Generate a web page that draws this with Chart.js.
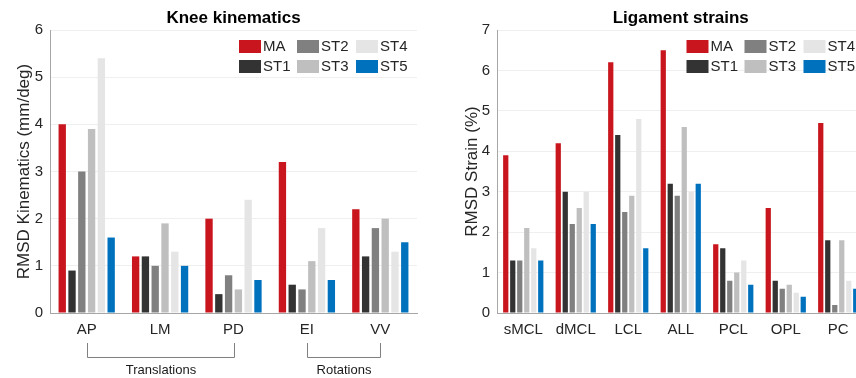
<!DOCTYPE html>
<html>
<head>
<meta charset="utf-8">
<script src="https://cdn.jsdelivr.net/npm/chart.js@4.4.1/dist/chart.umd.min.js"></script>
<style>
  html, body { margin: 0; padding: 0; width: 856px; height: 378px; overflow: hidden; background: #fff; }
  .box { position: absolute; top: 0; height: 378px; }
  #kinBox { left: 0; width: 430px; }
  #ligBox { left: 430px; width: 446px; }
</style>
</head>
<body>
<div id="kinBox" class="box"><canvas id="kinChart"></canvas></div>
<div id="ligBox" class="box"><canvas id="ligChart"></canvas></div>
<script>
// series names + colours (shared by both panels)
const seriesNames = ['MA', 'ST1', 'ST2', 'ST3', 'ST4', 'ST5'];
const seriesColors = ['#c9161e', '#333333', '#808080', '#bfbfbf', '#e5e5e5', '#0072bd'];

// knee kinematics
const kinCategories = ['AP', 'LM', 'PD', 'EI', 'VV'];
const kinMA = [4.0, 1.2, 2.0, 3.2, 2.2];
const kinST1 = [0.9, 1.2, 0.4, 0.6, 1.2];
const kinST2 = [3.0, 1.0, 0.8, 0.5, 1.8];
const kinST3 = [3.9, 1.9, 0.5, 1.1, 2.0];
const kinST4 = [5.4, 1.3, 2.4, 1.8, 1.3];
const kinST5 = [1.6, 1.0, 0.7, 0.7, 1.5];
const kinGroups = [
  { label: 'Translations', from: 'AP', to: 'PD' },
  { label: 'Rotations', from: 'EI', to: 'VV' },
];

// ligament strains
const ligCategories = ['sMCL', 'dMCL', 'LCL', 'ALL', 'PCL', 'OPL', 'PC'];
const ligMA = [3.9, 4.2, 6.2, 6.5, 1.7, 2.6, 4.7];
const ligST1 = [1.3, 3.0, 4.4, 3.2, 1.6, 0.8, 1.8];
const ligST2 = [1.3, 2.2, 2.5, 2.9, 0.8, 0.6, 0.2];
const ligST3 = [2.1, 2.6, 2.9, 4.6, 1.0, 0.7, 1.8];
const ligST4 = [1.6, 3.0, 4.8, 3.0, 1.3, 0.5, 0.8];
const ligST5 = [1.3, 2.2, 1.6, 3.2, 0.7, 0.4, 0.6];

const FONT = '"Liberation Sans", Arial, Helvetica, sans-serif';
const TEXT = '#262626';

// matlab style legend: 2 rows x 3 columns, filled column by column
const gridLegend = {
  id: 'gridLegend',
  afterDatasetsDraw(chart) {
    const { ctx, chartArea } = chart;
    const x0 = chartArea.right - 178;
    const colX = [0, 58, 117];
    ctx.save();
    ctx.font = '15px ' + FONT;
    ctx.textBaseline = 'middle';
    chart.data.datasets.forEach((ds, i) => {
      const x = x0 + colX[Math.floor(i / 2)];
      const y = chartArea.top + 10 + (i % 2) * 20;
      ctx.fillStyle = ds.backgroundColor;
      ctx.fillRect(x, y, 22, 13);
      ctx.fillStyle = TEXT;
      ctx.fillText(ds.label, x + 24, y + 7);
    });
    ctx.restore();
  },
};

// brackets under the x axis grouping categories
const groupBrackets = {
  id: 'groupBrackets',
  afterDraw(chart, args, opts) {
    if (!opts.groups) return;
    const { ctx, chartArea, scales } = chart;
    const x = scales.x;
    const labels = x.getLabels();
    const yTop = chartArea.bottom + 30;
    const yBar = Math.round(chartArea.bottom + 44) + 0.5;
    ctx.save();
    ctx.strokeStyle = '#808080';
    ctx.lineWidth = 1;
    ctx.fillStyle = '#1a1a1a';
    ctx.font = '13px ' + FONT;
    ctx.textAlign = 'center';
    ctx.textBaseline = 'middle';
    opts.groups.forEach((g) => {
      const x1 = Math.round(x.getPixelForValue(labels.indexOf(g.from))) + 0.5;
      const x2 = Math.round(x.getPixelForValue(labels.indexOf(g.to))) + 0.5;
      ctx.beginPath();
      ctx.moveTo(x1, yTop);
      ctx.lineTo(x1, yBar);
      ctx.lineTo(x2, yBar);
      ctx.lineTo(x2, yTop);
      ctx.stroke();
      ctx.fillText(g.label, (x1 + x2) / 2, yBar + 13);
    });
    ctx.restore();
  },
};

function makeDatasets(values) {
  return values.map((data, i) => ({
    label: seriesNames[i],
    data,
    backgroundColor: seriesColors[i],
    borderWidth: 0,
    categoryPercentage: 0.8,
    barPercentage: 0.75,
  }));
}

function makeConfig({ categories, values, title, yTitle, yMax, yWidth, yTitlePad, rightPad, groups }) {
  return {
    type: 'bar',
    data: { labels: categories, datasets: makeDatasets(values) },
    options: {
      responsive: true,
      maintainAspectRatio: false,
      animation: false,
      layout: { padding: { left: 0, right: rightPad, top: 0, bottom: 0 } },
      plugins: {
        legend: { display: false },
        tooltip: { enabled: false },
        title: {
          display: true,
          text: title,
          color: '#000',
          fullSize: false,
          font: { family: FONT, size: 17, weight: 'bold' },
          padding: { top: 8, bottom: 1.6 },
        },
        groupBrackets: { groups },
      },
      scales: {
        x: {
          grid: { display: false, drawTicks: false },
          border: { color: '#a6a6a6', width: 1 },
          ticks: { color: TEXT, font: { family: FONT, size: 15 }, padding: 8 },
          afterFit(scale) { scale.height = 65; },
        },
        y: {
          min: 0,
          max: yMax,
          grid: { color: '#efefef', drawTicks: false },
          border: { color: '#a6a6a6', width: 1 },
          ticks: { stepSize: 1, color: TEXT, font: { family: FONT, size: 15 }, padding: 7 },
          title: {
            display: true,
            text: yTitle,
            color: TEXT,
            font: { family: FONT, size: 17 },
            padding: { top: yTitlePad, bottom: 0 },
          },
          afterFit(scale) { scale.width = yWidth; },
        },
      },
    },
    plugins: [gridLegend, groupBrackets],
  };
}

new Chart(document.getElementById('kinChart'), makeConfig({
  categories: kinCategories,
  values: [kinMA, kinST1, kinST2, kinST3, kinST4, kinST5],
  title: 'Knee kinematics',
  yTitle: 'RMSD Kinematics (mm/deg)',
  yMax: 6,
  yWidth: 50,
  yTitlePad: 14,
  rightPad: 13,
  groups: kinGroups,
}));

new Chart(document.getElementById('ligChart'), makeConfig({
  categories: ligCategories,
  values: [ligMA, ligST1, ligST2, ligST3, ligST4, ligST5],
  title: 'Ligament strains',
  yTitle: 'RMSD Strain (%)',
  yMax: 7,
  yWidth: 67,
  yTitlePad: 32,
  rightPad: 11.5,
  groups: null,
}));
</script>
</body>
</html>
